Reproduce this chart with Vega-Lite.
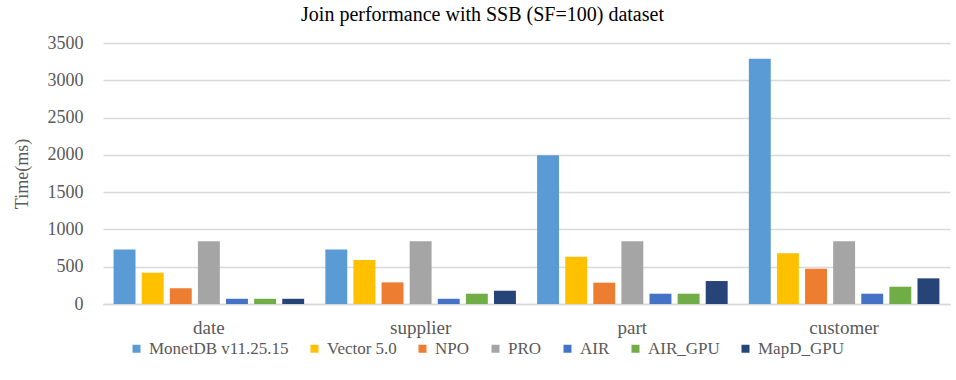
{
  "$schema": "https://vega.github.io/schema/vega-lite/v6.json",
  "autosize": {"type": "none"},
  "width": 847,
  "height": 261,
  "padding": {"left": 103, "top": 43, "right": 6, "bottom": 76},
  "background": "white",
  "title": {
    "text": "Join performance with SSB (SF=100) dataset",
    "font": "Liberation Serif",
    "fontSize": 20,
    "fontWeight": "normal",
    "color": "#000000",
    "anchor": "middle",
    "dx": -44,
    "offset": 9
  },
  "data": {
    "values": [
      {"table": "date", "system": "MonetDB v11.25.15", "time": 730},
      {"table": "date", "system": "Vector 5.0", "time": 420},
      {"table": "date", "system": "NPO", "time": 210},
      {"table": "date", "system": "PRO", "time": 840},
      {"table": "date", "system": "AIR", "time": 70},
      {"table": "date", "system": "AIR_GPU", "time": 70},
      {"table": "date", "system": "MapD_GPU", "time": 70},
      {"table": "supplier", "system": "MonetDB v11.25.15", "time": 730},
      {"table": "supplier", "system": "Vector 5.0", "time": 590},
      {"table": "supplier", "system": "NPO", "time": 290},
      {"table": "supplier", "system": "PRO", "time": 840},
      {"table": "supplier", "system": "AIR", "time": 70},
      {"table": "supplier", "system": "AIR_GPU", "time": 138},
      {"table": "supplier", "system": "MapD_GPU", "time": 178},
      {"table": "part", "system": "MonetDB v11.25.15", "time": 1995},
      {"table": "part", "system": "Vector 5.0", "time": 634},
      {"table": "part", "system": "NPO", "time": 286},
      {"table": "part", "system": "PRO", "time": 840},
      {"table": "part", "system": "AIR", "time": 138},
      {"table": "part", "system": "AIR_GPU", "time": 138},
      {"table": "part", "system": "MapD_GPU", "time": 308},
      {"table": "customer", "system": "MonetDB v11.25.15", "time": 3290},
      {"table": "customer", "system": "Vector 5.0", "time": 680},
      {"table": "customer", "system": "NPO", "time": 473},
      {"table": "customer", "system": "PRO", "time": 840},
      {"table": "customer", "system": "AIR", "time": 138},
      {"table": "customer", "system": "AIR_GPU", "time": 232},
      {"table": "customer", "system": "MapD_GPU", "time": 344}
    ]
  },
  "mark": {"type": "bar"},
  "encoding": {
    "x": {
      "field": "table",
      "type": "nominal",
      "sort": ["date", "supplier", "part", "customer"],
      "scale": {"paddingInner": 0.1, "paddingOuter": 0.05},
      "axis": {
        "title": null,
        "labelAngle": 0,
        "labelFont": "Liberation Serif",
        "labelFontSize": 19,
        "labelColor": "#595959",
        "labelPadding": 14,
        "ticks": false,
        "domain": true,
        "domainColor": "#D9D9D9",
        "domainWidth": 1.5
      }
    },
    "xOffset": {
      "field": "system",
      "type": "nominal",
      "sort": ["MonetDB v11.25.15", "Vector 5.0", "NPO", "PRO", "AIR", "AIR_GPU", "MapD_GPU"],
      "scale": {"paddingInner": 0.22, "paddingOuter": 0}
    },
    "y": {
      "field": "time",
      "type": "quantitative",
      "scale": {"domain": [0, 3500]},
      "axis": {
        "title": "Time(ms)",
        "titleFont": "Liberation Serif",
        "titleFontSize": 18,
        "titleFontWeight": "normal",
        "titleColor": "#595959",
        "titlePadding": 16,
        "format": "d",
        "values": [0, 500, 1000, 1500, 2000, 2500, 3000, 3500],
        "labelFont": "Liberation Serif",
        "labelFontSize": 18,
        "labelColor": "#595959",
        "labelPadding": 20,
        "ticks": false,
        "domain": false,
        "grid": true,
        "gridColor": "#D9D9D9",
        "gridWidth": 1.5
      }
    },
    "color": {
      "field": "system",
      "type": "nominal",
      "sort": ["MonetDB v11.25.15", "Vector 5.0", "NPO", "PRO", "AIR", "AIR_GPU", "MapD_GPU"],
      "scale": {
        "domain": ["MonetDB v11.25.15", "Vector 5.0", "NPO", "PRO", "AIR", "AIR_GPU", "MapD_GPU"],
        "range": ["#5B9BD5", "#FFC000", "#ED7D31", "#A5A5A5", "#4472C4", "#70AD47", "#264478"]
      },
      "legend": {
        "title": null,
        "orient": "none",
        "direction": "horizontal",
        "legendX": 25,
        "legendY": 297,
        "symbolType": "square",
        "symbolSize": 64,
        "symbolStrokeWidth": 0,
        "labelFont": "Liberation Serif",
        "labelFontSize": 17,
        "labelColor": "#595959",
        "labelOffset": 4,
        "columnPadding": 17,
        "labelLimit": 300
      }
    }
  },
  "config": {
    "view": {"stroke": null},
    "legend": {"labelFont": "Liberation Serif"}
  }
}
